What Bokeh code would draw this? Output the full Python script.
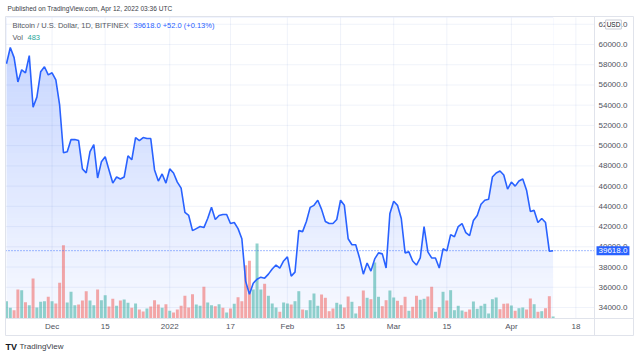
import numpy as np
from datetime import datetime
from bokeh.plotting import figure
from bokeh.models import (Range1d, FixedTicker, NumeralTickFormatter, Label, ColumnDataSource)
from bokeh.embed import file_html
from bokeh.resources import INLINE

# ---------------- data ----------------
first_day = "2021-11-19"
close = [58100, 59700, 58700, 56300, 57500, 57200, 58900, 53800, 54800, 57300,
         57800, 57000, 57200, 56500, 54000, 49300, 49400, 50600, 50600, 50500,
         47700, 47300, 49400, 50100, 46800, 48400, 48900, 47600, 46300, 46900,
         46700, 46900, 49000, 48600, 50800, 50500, 50800, 50700, 50700, 47600,
         46500, 47200, 46300, 47700, 47300, 46400, 45800, 43400, 43100, 41600,
         41800, 42000, 41900, 42800, 43900, 42700, 43100, 43200, 43200, 42300,
         42400, 41800, 40800, 36600, 35300, 36400, 36800, 37000, 36900, 37300,
         37800, 38200, 37900, 38600, 39000, 37100, 37500, 41600, 41500, 42500,
         43900, 44100, 44600, 43700, 42500, 42300, 42300, 42700, 44600, 44100,
         40800, 40200, 40200, 38900, 37300, 38400, 37600, 38800, 39400, 39300,
         37900, 43300, 44500, 44100, 42800, 39400, 39500, 38600, 38200, 38900,
         42000, 39500, 38900, 38900, 37900, 39800, 39600, 41200, 41000, 42000,
         42300, 41400, 41100, 42600, 43100, 44200, 44600, 44700, 46900, 47300,
         47500, 47100, 45700, 46400, 46000, 46500, 46700, 45600, 43500, 43600,
         42400, 42800, 42400, 39566, 39618]
volume = [4150, 2570, 1990, 6960, 6790, 3910, 3190, 9600, 2640, 4010,
          4150, 5210, 4150, 3600, 8570, 17590, 3840, 6410, 3190, 3360,
          4320, 6550, 4320, 3190, 6960, 4390, 5590, 2880, 4730, 3050,
          4320, 4560, 3770, 2570, 3600, 2160, 1680, 2400, 2880, 4390,
          3360, 2570, 3430, 1850, 1440, 2160, 3050, 5450, 2640, 5830,
          3360, 3050, 7610, 3840, 3190, 2950, 3430, 2570, 1440, 2400,
          3530, 5110, 4150, 12790, 13850, 6960, 18000, 6960, 8330, 5450,
          3600, 2640, 1610, 3840, 3600, 3360, 4150, 6550, 2160, 1990,
          4390, 6000, 3050, 5760, 4970, 1750, 2400, 3770, 3360, 2640,
          5280, 4010, 1200, 2950, 6720, 4970, 4630, 13440, 5210, 2950,
          4390, 6720, 5040, 4250, 3190, 5210, 1850, 2810, 5450, 4490,
          4730, 5280, 7610, 1610, 2710, 6410, 4320, 6790, 1990, 3050,
          1920, 1610, 2160, 4080, 2330, 3050, 3530, 1200, 4630, 5040,
          2230, 3530, 3600, 3120, 1850, 2470, 2640, 2160, 4800, 3430,
          1610, 1750, 2470, 5350, 483]
vol_up = [1, 1, 0, 0, 1, 0, 1, 0, 1, 1, 1, 0, 1, 0, 0, 0, 1, 1, 1, 0,
          0, 0, 1, 1, 0, 1, 1, 0, 0, 1, 0, 1, 1, 0, 1, 0, 0, 1, 0, 0,
          0, 1, 0, 1, 0, 0, 0, 0, 0, 0, 1, 1, 0, 1, 1, 0, 1, 0, 1, 0,
          1, 0, 0, 0, 0, 1, 1, 1, 0, 1, 1, 1, 0, 1, 1, 0, 1, 1, 0, 1,
          1, 1, 1, 0, 0, 0, 0, 1, 1, 0, 0, 1, 1, 0, 0, 1, 0, 1, 1, 0,
          0, 1, 1, 0, 0, 0, 1, 0, 0, 1, 1, 0, 0, 1, 0, 1, 0, 1, 1, 1,
          1, 0, 0, 1, 1, 1, 1, 1, 1, 1, 0, 0, 0, 1, 0, 1, 1, 0, 0, 1,
          0, 1, 0, 0, 1]
price_ticks = list(range(34000, 62001, 2000))
time_tick_days = ["2021-12-01", "2021-12-15", "2022-01-01", "2022-01-17", "2022-02-01",
                  "2022-02-15", "2022-03-01", "2022-03-15", "2022-04-01", "2022-04-18"]
time_tick_labels = ["Dec", "15", "2022", "17", "Feb", "15", "Mar", "15", "Apr", "18"]
last_price = 39618.0
change = 52.0
change_pct = 0.13
last_vol = 483
published = "Published on TradingView.com, Apr 12, 2022 03:36 UTC"
symbol_title = "Bitcoin / U.S. Dollar, 1D, BITFINEX"

# ---------------- layout helpers (canvas pixel <-> data) ----------------
DAY = 86400000.0
EPOCH = datetime(1970, 1, 1)


def ms(s):
    return (datetime.strptime(s, "%Y-%m-%d") - EPOCH).total_seconds() * 1000.0


W, H = 640, 358
PX_DAY = 3.796          # pixels per day
X_FIRST = 6.0           # canvas x of the first day
VAL_PX = 98.86          # price units per pixel
Y_REF, V_REF = 44.0, 60000.0
VOL_PX = 240.0          # volume units per pixel
CL, CR, CT, CB = 5, 594, 17, 318    # price pane
AX_R, TA_B = 633, 335               # right edge of price scale, bottom of time scale

x0 = ms(first_day)
xs = [x0 + i * DAY for i in range(len(close))]


def xd(px):
    return x0 + (px - X_FIRST) / PX_DAY * DAY


def yd(py):
    return V_REF + (Y_REF - py) * VAL_PX


BLUE = "#2962FF"
UP_COL, DN_COL = "#26a69a", "#ef5350"
FONT = "Liberation Sans"
TXT = "#50535e"
BORDER = "#e0e3eb"

p = figure(width=W, height=H, x_axis_type="datetime",
           x_range=Range1d(xd(0), xd(W)), y_range=Range1d(yd(H), yd(0)),
           y_axis_location="right", output_backend="svg", toolbar_location=None,
           min_border_left=0, min_border_right=0, min_border_top=0, min_border_bottom=0)
p.outline_line_color = None
p.background_fill_color = "white"
p.border_fill_color = "white"
p.grid.visible = False

# gradient under the line: bands, then a white cover above the line
n_b = 60
edges = np.linspace(yd(CB), yd(CT), n_b + 1)
mids = (edges[:-1] + edges[1:]) / 2
alphas = 0.035 + 0.25 * (mids - edges[0]) / (edges[-1] - edges[0])
band = ColumnDataSource(dict(bottom=edges[:-1], top=edges[1:], a=alphas))
p.quad(left=xs[0], right=xs[-1], bottom="bottom", top="top", fill_alpha="a",
       fill_color=BLUE, line_color=None, source=band)
p.varea(x=xs, y1=close, y2=[yd(CT)] * len(xs), fill_color="white", fill_alpha=1.0)

# grid lines (price pane only)
tick_ms = [ms(d) for d in time_tick_days]
p.segment(x0=[xd(CL)] * len(price_ticks), x1=[xd(CR)] * len(price_ticks),
          y0=price_ticks, y1=price_ticks, line_color="#4369c0", line_alpha=0.08, line_width=1)
p.segment(x0=tick_ms, x1=tick_ms, y0=[yd(CB)] * len(tick_ms), y1=[yd(CT)] * len(tick_ms),
          line_color="#4369c0", line_alpha=0.08, line_width=1)

# volume
p.extra_y_ranges = {"vol": Range1d(-(H - CB) * VOL_PX, CB * VOL_PX)}
vsrc = ColumnDataSource(dict(x=xs, top=volume,
                             c=[UP_COL if u else DN_COL for u in vol_up]))
p.vbar(x="x", top="top", bottom=0, width=0.78 * DAY, fill_color="c", fill_alpha=0.5,
       line_color=None, y_range_name="vol", source=vsrc)

# price line and last-price dotted line
p.line(xs, close, line_color=BLUE, line_width=1.6)
p.segment(x0=[xd(CL)], x1=[xd(CR)], y0=[last_price], y1=[last_price],
          line_color=BLUE, line_dash="1 2", line_width=1, line_alpha=0.85)

# chart frame lines
p.quad(left=[xd(CL)], right=[xd(AX_R)], bottom=[yd(TA_B)], top=[yd(CT - 1)],
       fill_color=None, line_color=BORDER, line_width=1)
p.segment(x0=[xd(CR), xd(CL)], x1=[xd(CR), xd(AX_R)], y0=[yd(CT - 1), yd(CB)],
          y1=[yd(TA_B), yd(CB)], line_color=BORDER, line_width=1)

# axes (labels pulled inside the canvas with negative standoff)
ya = p.yaxis[0]
ya.ticker = FixedTicker(ticks=price_ticks)
ya.formatter = NumeralTickFormatter(format="0.0")
xa = p.xaxis[0]
xa.ticker = FixedTicker(ticks=tick_ms)
xa.major_label_overrides = {t: l for t, l in zip(tick_ms, time_tick_labels)}
for ax in (xa, ya):
    ax.axis_line_color = None
    ax.major_tick_line_color = None
    ax.minor_tick_line_color = None
    ax.major_tick_out = 0
    ax.major_tick_in = 0
    ax.major_label_text_font = FONT
    ax.major_label_text_font_size = "8px"
    ax.major_label_text_color = TXT
ya.major_label_standoff = 598 - W
xa.major_label_standoff = 321 - H


def lab(text, cx, cy, color, size="7.5px", style="normal", align="left", **kw):
    p.add_layout(Label(x=cx, y=H - cy, x_units="screen", y_units="screen",
                       text=text, text_color=color, text_font=FONT,
                       text_font_size=size, text_font_style=style, text_align=align,
                       text_baseline="middle", **kw))


lab(published, 7, 8, "#3b3e48", size="6.6px")
lab(symbol_title, 12, 25, "#555862")
lab(f"{last_price:.1f}  +{change:.1f} (+{change_pct:.2f}%)", 133, 25, BLUE)
lab("Vol", 12, 37, "#555862")
lab(f"{last_vol}", 27, 37, UP_COL)
lab("TV", 5, 346, "#131722", size="9px", style="bold")
lab("TradingView", 19, 346, "#3b3e48", size="8px")
lab("USD", 613, 24, "#131722", size="6.5px", align="center",
    background_fill_color="white", border_line_color="#c9ccd6", padding=1)

# last price tag on the price scale
p.add_layout(Label(x=596, y=last_price, x_units="screen", y_units="data",
                   text=f"{last_price:.1f}", text_color="white", text_font=FONT,
                   text_font_size="8px", text_baseline="middle",
                   background_fill_color=BLUE, padding=2))

open("out.html", "w").write(file_html(p, INLINE))
